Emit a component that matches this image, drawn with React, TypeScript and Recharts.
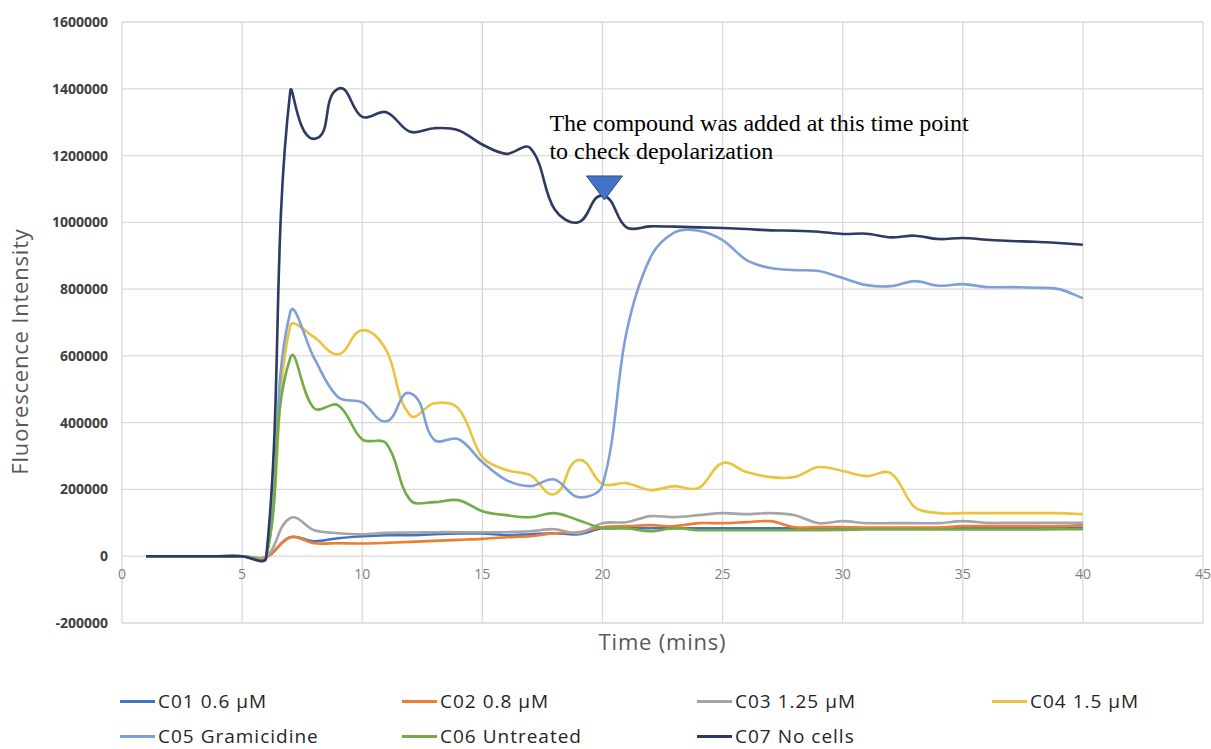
import React from "react";
import { LineChart, Line, XAxis, YAxis, CartesianGrid, Legend, ReferenceDot } from "recharts";

const TIME = [1,2,3,4,5,6,7,8,9,10,11,12,13,14,15,16,17,18,19,20,21,22,23,24,25,26,27,28,29,30,31,32,33,34,35,36,37,38,39,40];

const C01 = [0,0,0,0,0,-3000,57000,45000,54000,60000,63000,63000,66000,68000,68000,63000,66000,69000,66000,84000,84000,84000,84000,84000,84000,84000,84000,84000,84000,84000,84000,84000,84000,84000,85000,85000,85000,85000,85000,85000];
const C02 = [0,0,0,0,0,-3000,57000,39000,39000,38000,40000,43000,46000,49000,52000,57000,60000,69000,72000,87000,90000,93000,90000,99000,99000,102000,105000,87000,87000,87000,86000,86000,86000,86000,90000,90000,90000,90000,90000,93000];
const C03 = [0,0,0,0,0,-3000,114000,78000,69000,66000,70000,71000,72000,72000,72000,72000,75000,81000,69000,99000,102000,120000,117000,123000,129000,126000,129000,123000,99000,105000,99000,99000,99000,99000,105000,100000,100000,100000,100000,100000];
const C04 = [0,0,0,0,0,-3000,690000,656000,605000,677000,617000,422000,458000,443000,297000,258000,243000,186000,288000,216000,219000,198000,210000,204000,279000,252000,237000,237000,267000,255000,240000,249000,147000,129000,129000,129000,129000,129000,129000,126000];
const C05 = [0,0,0,0,0,-5000,730000,593000,476000,461000,404000,488000,348000,351000,282000,228000,210000,230000,177000,212000,670000,895000,970000,975000,947000,887000,863000,857000,854000,833000,812000,809000,824000,810000,815000,806000,806000,804000,800000,773000];
const C06 = [0,0,0,0,0,-3000,593000,443000,452000,350000,338000,168000,162000,168000,135000,123000,117000,129000,108000,84000,84000,75000,84000,78000,78000,78000,78000,78000,78000,79000,80000,80000,80000,80000,80000,80000,80000,80000,81000,81000];
const C07 = [0,0,0,0,0,-5000,1390000,1250000,1400000,1316000,1330000,1271000,1282000,1276000,1233000,1205000,1222000,1040000,1000000,1080000,985000,988000,987000,985000,983000,980000,976000,975000,972000,965000,966000,955000,960000,950000,953000,948000,944000,942000,938000,933000];

const SERIES_NAMES = ["C01 0.6 µM", "C02 0.8 µM", "C03 1.25 µM", "C04 1.5 µM", "C05 Gramicidine", "C06 Untreated", "C07 No cells"];
const SERIES_KEYS = ["c01", "c02", "c03", "c04", "c05", "c06", "c07"];
const SERIES_VALUES = [C01, C02, C03, C04, C05, C06, C07];
const SERIES_COLORS = ["#4472C4", "#ED7D31", "#A5A5A5", "#E9C43C", "#7E9FD8", "#70AD47", "#2D3A64"];

const X_TICKS = [0, 5, 10, 15, 20, 25, 30, 35, 40, 45];
const Y_TICKS = [-200000, 0, 200000, 400000, 600000, 800000, 1000000, 1200000, 1400000, 1600000];

const MARKER_TIME = 20;
const MARKER_VALUE = 1067000;
const NOTE_LINES = ["The compound was added at this time point", "to check depolarization"];

const data = TIME.map((t, i) => {
  const row: any = { t };
  SERIES_KEYS.forEach((k, j) => { row[k] = SERIES_VALUES[j][i]; });
  return row;
});

// Excel-like smoothing: tangent from neighbours, control distance scaled by segment length
const SMOOTH = 1 / 3;
function excelCurve(context: any) {
  let pts: number[][] = [];
  return {
    areaStart() {},
    areaEnd() {},
    lineStart() { pts = []; },
    point(x: number, y: number) { pts.push([+x, +y]); },
    lineEnd() {
      const n = pts.length;
      if (!n) return;
      context.moveTo(pts[0][0], pts[0][1]);
      if (n === 1) return;
      const tan = pts.map((p, i) => {
        const a = pts[Math.max(0, i - 1)];
        const b = pts[Math.min(n - 1, i + 1)];
        const dx = b[0] - a[0];
        const dy = b[1] - a[1];
        const l = Math.hypot(dx, dy) || 1;
        return [dx / l, dy / l];
      });
      for (let i = 0; i < n - 1; i++) {
        const p = pts[i];
        const q = pts[i + 1];
        const d = Math.hypot(q[0] - p[0], q[1] - p[1]) * SMOOTH;
        context.bezierCurveTo(
          p[0] + tan[i][0] * d, p[1] + tan[i][1] * d,
          q[0] - tan[i + 1][0] * d, q[1] - tan[i + 1][1] * d,
          q[0], q[1]
        );
      }
    },
  };
}

const XTick = (props: any) => {
  const { x, y, payload } = props;
  return (
    <text x={x} y={y - 52} textAnchor="middle" fill="#7f7f7f" fontSize={14} fontFamily="Open Sans">
      {payload.value}
    </text>
  );
};

const Marker = (props: any) => {
  const { cx, cy } = props;
  const mx = cx + 2;
  return (
    <g>
      <polygon points={`${mx - 18},${cy - 24} ${mx + 18},${cy - 24} ${mx},${cy}`} fill="#4472C4" stroke="#2F528F" strokeWidth={1} />
      {NOTE_LINES.map((s, i) => (
        <text key={i} x={cx - 53} y={cy - 69 + i * 28} fill="#000" fontSize={24} fontFamily="Liberation Serif">
          {s}
        </text>
      ))}
    </g>
  );
};

const LEGEND_COLS = [120, 402, 697, 992];

const LegendContent = () => (
  <div style={{ position: "relative", width: 1211, height: 54 }}>
    {SERIES_NAMES.map((name, i) => (
      <div
        key={name}
        style={{
          position: "absolute",
          left: LEGEND_COLS[i % 4],
          top: i < 4 ? 0 : 35,
          display: "flex",
          alignItems: "center",
          height: 19,
          lineHeight: "19px",
          fontFamily: "Open Sans",
          fontSize: 19,
          letterSpacing: 1,
          color: "#262626",
          whiteSpace: "nowrap",
        }}
      >
        <span style={{ display: "inline-block", width: 35, height: 2.5, background: SERIES_COLORS[i], marginRight: 3 }} />
        <span>{name}</span>
      </div>
    ))}
  </div>
);

export default function App() {
  return (
    <div style={{ position: "absolute", left: 0, top: 0, background: "#fff" }}>
      <LineChart width={1211} height={749} data={data} margin={{ top: 22, right: 8, left: 0, bottom: 86 }}>
        <CartesianGrid stroke="#d9d9d9" strokeWidth={1.3} />
        <XAxis
          dataKey="t"
          type="number"
          domain={[0, 45]}
          ticks={X_TICKS}
          axisLine={false}
          tickLine={false}
          height={40}
          tick={<XTick />}
          interval={0}
          label={{ value: "Time (mins)", position: "insideBottom", offset: 13, fill: "#595959", fontSize: 22, letterSpacing: 0.8, fontFamily: "Open Sans" }}
        />
        <YAxis
          type="number"
          domain={[-200000, 1600000]}
          ticks={Y_TICKS}
          width={122}
          axisLine={false}
          tickLine={false}
          tickMargin={8}
          interval={0}
          tick={{ fill: "#404040", fontSize: 14, fontWeight: "bold", fontFamily: "Open Sans" }}
          label={{ value: "Fluorescence Intensity", angle: -90, position: "insideLeft", offset: 0, dx: 20, dy: 29, fill: "#595959", fontSize: 22, letterSpacing: 0.8, fontFamily: "Open Sans", style: { textAnchor: "middle" } }}
        />
        {SERIES_KEYS.map((k, i) => (
          <Line
            key={k}
            dataKey={k}
            name={SERIES_NAMES[i]}
            stroke={SERIES_COLORS[i]}
            strokeWidth={2.6}
            dot={false}
            type={excelCurve as any}
            isAnimationActive={false}
          />
        ))}
        <ReferenceDot x={MARKER_TIME} y={MARKER_VALUE} shape={<Marker />} />
        <Legend
          layout="horizontal"
          verticalAlign="middle"
          align="center"
          content={<LegendContent />}
          wrapperStyle={{ top: 692, left: 0, width: 1211 }}
        />
      </LineChart>
    </div>
  );
}
